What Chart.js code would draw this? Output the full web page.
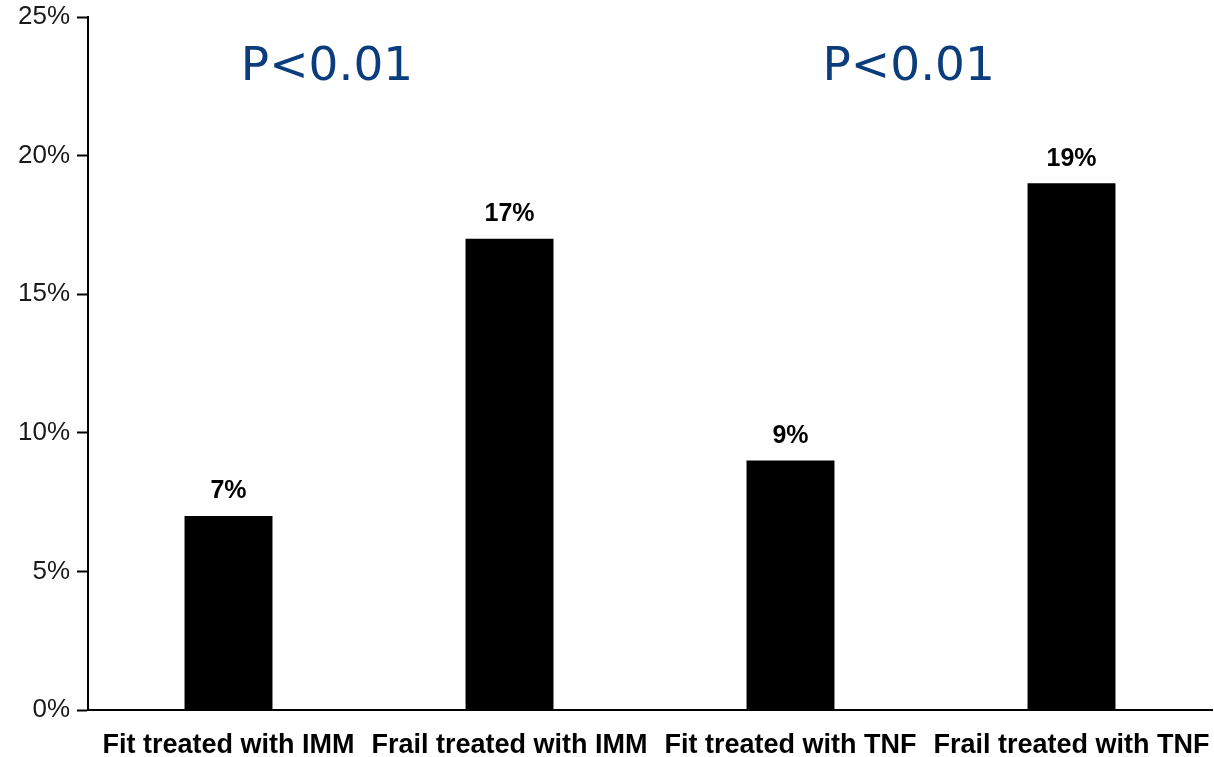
<!DOCTYPE html>
<html>
<head>
<meta charset="utf-8">
<script src="https://cdn.jsdelivr.net/npm/chart.js@4/dist/chart.umd.min.js"></script>
<style>
  html, body { margin: 0; padding: 0; background: #ffffff; }
  #wrap { position: relative; width: 1214px; height: 757px; }
</style>
</head>
<body>
<div id="wrap"><canvas id="chart" width="1214" height="757"></canvas></div>
<script>
// Share of patients in each group (percent)
const categories = ['Fit treated with IMM', 'Frail treated with IMM', 'Fit treated with TNF', 'Frail treated with TNF'];
const rates = [7, 17, 9, 19];
const yTicks = [0, 5, 10, 15, 20, 25];
// Significance notes over each pair of groups, placed at a fractional category index
const pNotes = ['P<0.01', 'P<0.01'];
const pNoteAt = [0.35, 2.42];

// Writes the percentage over every bar and the P-value notes above the pairs
const annotate = {
  id: 'annotate',
  afterDatasetsDraw(chart) {
    const ctx = chart.ctx;
    const meta = chart.getDatasetMeta(0);
    ctx.save();
    ctx.fillStyle = '#000000';
    ctx.font = 'bold 25px "Liberation Sans", Arial, sans-serif';
    ctx.textAlign = 'center';
    ctx.textBaseline = 'bottom';
    meta.data.forEach((bar, i) => {
      ctx.fillText(rates[i] + '%', bar.x, bar.y - 12);
    });
    const xs = chart.scales.x;
    ctx.fillStyle = '#0b3d7d';
    ctx.font = '47px "DejaVu Sans", Verdana, sans-serif';
    ctx.textAlign = 'left';
    ctx.textBaseline = 'alphabetic';
    pNotes.forEach((t, i) => {
      ctx.fillText(t, xs.getPixelForValue(pNoteAt[i]) - 86, 80);
    });
    ctx.restore();
  }
};

new Chart(document.getElementById('chart'), {
  type: 'bar',
  data: {
    labels: categories,
    datasets: [{
      data: rates,
      backgroundColor: '#000000',
      borderWidth: 0,
      categoryPercentage: 1.0,
      barPercentage: 0.313
    }]
  },
  options: {
    responsive: false,
    animation: false,
    layout: { padding: { top: 17, right: 2, left: 0, bottom: 0 } },
    plugins: { legend: { display: false }, tooltip: { enabled: false } },
    scales: {
      x: {
        grid: { display: false, drawTicks: false },
        border: { display: true, color: '#000000', width: 2 },
        ticks: {
          color: '#000000',
          font: { family: '"Liberation Sans", Arial, sans-serif', size: 27, weight: 'bold' },
          padding: 19,
          maxRotation: 0,
          autoSkip: false
        },
        afterFit(scale) {
          scale.height = 47;
          scale.paddingLeft = 0;
          scale.paddingRight = 0;
        }
      },
      y: {
        min: 0,
        max: 25,
        afterBuildTicks(scale) { scale.ticks = yTicks.map(v => ({ value: v })); },
        grid: { drawOnChartArea: false, drawTicks: true, tickLength: 11, tickColor: '#000000', tickWidth: 2 },
        border: { display: true, color: '#000000', width: 2 },
        ticks: {
          color: '#1a1a1a',
          font: { family: '"Liberation Sans", Arial, sans-serif', size: 26 },
          padding: 7,
          callback: v => v + '%'
        },
        afterFit(scale) {
          scale.width = 88;
          scale.paddingTop = 0;
          scale.paddingBottom = 0;
        }
      }
    }
  },
  plugins: [annotate]
});
</script>
</body>
</html>
